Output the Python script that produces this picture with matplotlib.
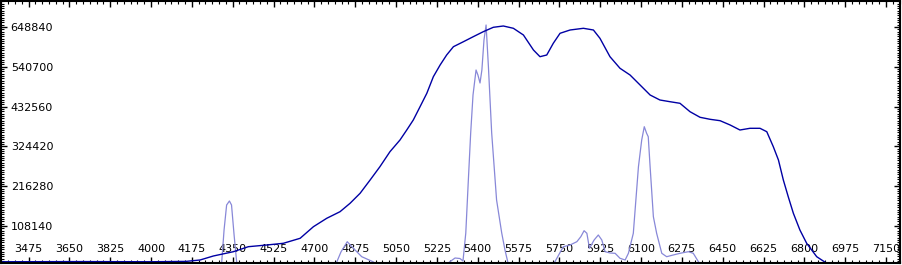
import numpy as np
import matplotlib
matplotlib.use("Agg")
import matplotlib.pyplot as plt
from matplotlib.ticker import AutoMinorLocator

# spectrum (dark trace), wavelength vs counts
spec_wl = [3360, 3700, 4000, 4150, 4210, 4267, 4353, 4417, 4496, 4567, 4639,
           4696, 4753, 4810, 4853, 4896, 4939, 4981, 5024, 5067, 5096, 5124,
           5153, 5182, 5210, 5239, 5267, 5296, 5339, 5381, 5424, 5467, 5510,
           5553, 5596, 5639, 5667, 5696, 5724, 5753, 5796, 5853, 5896, 5924,
           5967, 6010, 6053, 6096, 6139, 6181, 6224, 6267, 6310, 6353, 6396,
           6439, 6482, 6524, 6567, 6610, 6639, 6667, 6689, 6710, 6731, 6753,
           6781, 6810, 6853, 6896, 6950, 7210]
spec_val = [11000, 11500, 11000, 12000, 15760, 26630, 38310, 51900, 56520,
            61140, 74720, 106240, 129060, 147000, 169820, 196990, 233120,
            269260, 310010, 341800, 368970, 396140, 432280, 468690, 513790,
            545580, 572750, 595300, 608890, 622470, 636060, 648010, 651540,
            645290, 627090, 586330, 568130, 572750, 604540, 631710, 640680,
            645290, 640680, 618130, 568130, 536610, 518410, 491240, 464070,
            450480, 445870, 441520, 418690, 403480, 398040, 394240, 382560,
            368970, 373590, 373590, 364350, 323600, 287460, 233120, 187750,
            142640, 97270, 61140, 24730, 6800, 0, 0]

# reference lamp (light trace)
ref_wl = [3360, 4290, 4303, 4313, 4324, 4336, 4345, 4356, 4367, 4381,
          4785, 4796, 4814, 4841, 4866, 4903, 4951, 4981,
          5260, 5281, 5303, 5324, 5337, 5349, 5360, 5370, 5380, 5393, 5401,
          5410, 5418, 5427, 5436, 5446, 5460, 5481, 5503, 5517, 5530, 5547,
          5710, 5731, 5767, 5796, 5825, 5842, 5856, 5868, 5879, 5899, 5917,
          5932, 5946, 5968, 5989, 6010, 6032, 6046, 6067, 6089, 6103, 6114,
          6124, 6131, 6139, 6153, 6167, 6189, 6210, 6238, 6267, 6303, 6324,
          6346, 6361, 7210]
ref_val = [0, 0, 10300, 97270, 165200, 176060, 165200, 83690, 10300, 0,
           0, 10300, 37500, 65480, 48370, 24730, 11140, 0,
           0, 11140, 21200, 19840, 13050, 89120, 233120, 360820, 464070,
           532000, 518400, 496700, 532000, 613500, 654250, 540950, 360820,
           178780, 89120, 42930, 7610, 0,
           0, 11140, 51900, 56520, 65480, 79070, 95370, 88310, 47550, 70100,
           83690, 70100, 38310, 34780, 33960, 20380, 15760, 33960, 88310,
           269260, 341800, 377940, 360070, 350760, 269260, 133410, 88310,
           33960, 24730, 29350, 33960, 38310, 33960, 11140, 0, 0]

x_ticks = np.arange(3475, 7151, 175)
y_ticks = [108140 * k for k in range(1, 7)]

fig = plt.figure(figsize=(9.02, 2.65), dpi=100)
ax = fig.add_axes([1 / 902, 2 / 265, 899 / 902, 262 / 265])

ax.plot(ref_wl, ref_val, color="#8888d8", lw=0.9)
ax.plot(spec_wl, spec_val, color="#0000a4", lw=1.0)

ax.set_xlim(3357, 7210)
ax.set_ylim(7610, 719460)
ax.set_xticks(x_ticks)
ax.set_yticks(y_ticks)
ax.xaxis.set_minor_locator(AutoMinorLocator(6))
ax.yaxis.set_minor_locator(AutoMinorLocator(17))

ax.tick_params(which="both", direction="in", top=True, right=True, colors="black")
ax.tick_params(which="major", length=4, width=1)
ax.tick_params(which="minor", length=2, width=0.8)
ax.tick_params(axis="y", pad=-7, labelsize=8)
ax.tick_params(axis="x", pad=-14, labelsize=8)
for lab in ax.get_yticklabels():
    lab.set_horizontalalignment("left")

for sp in ax.spines.values():
    sp.set_linewidth(1.5)
    sp.set_color("black")

fig.savefig("out.png", dpi=100)
